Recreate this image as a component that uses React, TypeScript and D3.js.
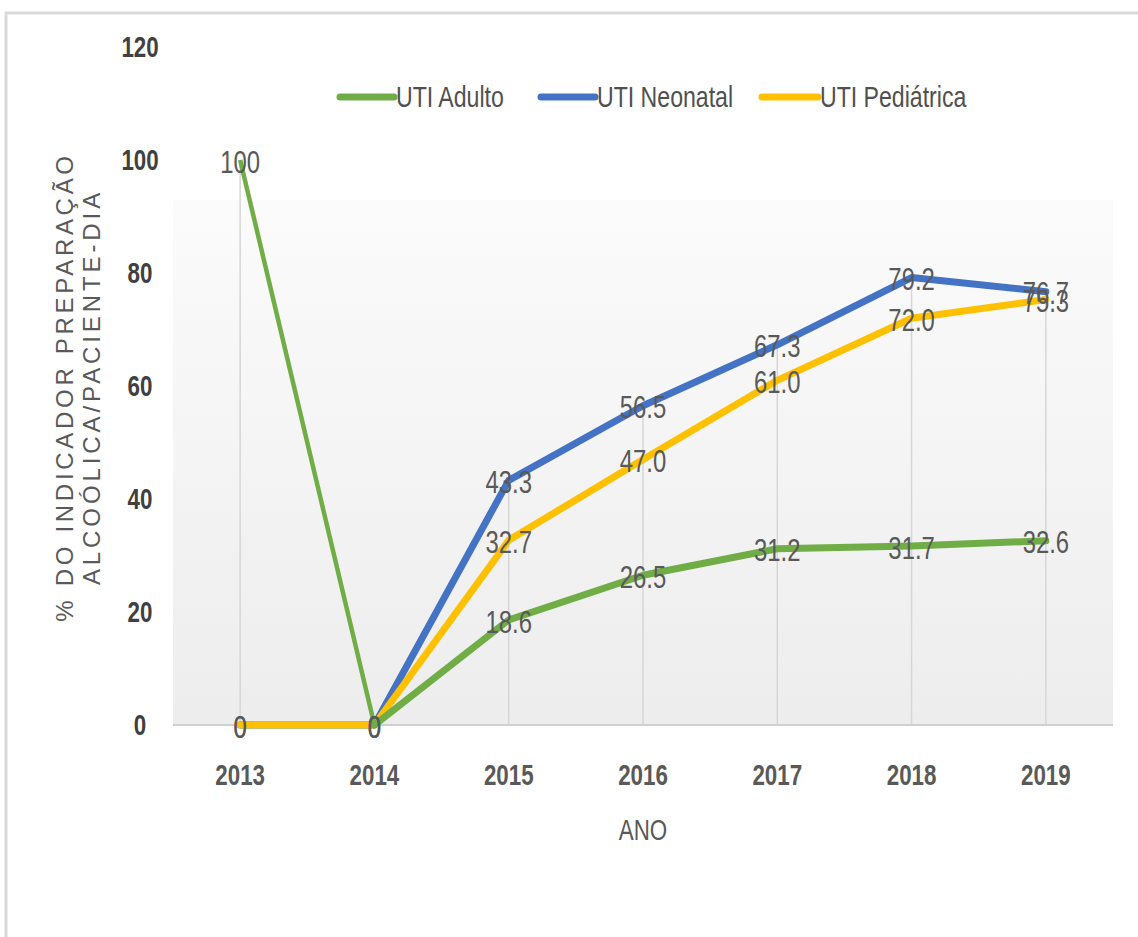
import React from "react";
import * as d3 from "d3";

const years = ["2013", "2014", "2015", "2016", "2017", "2018", "2019"];
const adulto = [100, 0, 18.6, 26.5, 31.2, 31.7, 32.6];
const neonatal = [0, 0, 43.3, 56.5, 67.3, 79.2, 76.7];
const pediatrica = [0, 0, 32.7, 47.0, 61.0, 72.0, 75.3];
const yTicks = [0, 20, 40, 60, 80, 100, 120];
const seriesNames = ["UTI Adulto", "UTI Neonatal", "UTI Pediátrica"];
const seriesColors = ["#70ad47", "#4472c4", "#ffc000"];

const W = 1138;
const H = 937;
const FONT = "'Liberation Sans', Arial, sans-serif";
const SX = 0.77;

function fmt(v: number) {
  return v === 0 || v === 100 ? String(v) : v.toFixed(1);
}

function SText(props: {
  x: number; y: number; text: string; size: number; weight?: string; fill?: string; anchor?: string;
}) {
  const { x, y, text, size, weight = "normal", fill = "#595959", anchor = "middle" } = props;
  return (
    <text
      transform={`translate(${x},${y}) scale(${SX},1)`}
      textAnchor={anchor as any}
      dominantBaseline="central"
      fontFamily={FONT}
      fontSize={size}
      fontWeight={weight}
      fill={fill}
    >
      {text}
    </text>
  );
}

export default function App() {
  const plotL = 173, plotR = 1113, plotT = 200, axisY = 725;
  const x = d3.scaleBand<string>().domain(years).range([plotL, plotR]);
  const xc = (yr: string) => (x(yr) as number) + x.bandwidth() / 2;
  const y = d3.scaleLinear().domain([0, 120]).range([axisY, 47]);

  const data = [adulto, neonatal, pediatrica];
  const line = d3
    .line<number>()
    .x((_, i) => xc(years[i]))
    .y((v) => y(v));
  const segLine = d3
    .line<[string, number]>()
    .x((d) => xc(d[0]))
    .y((d) => y(d[1]));

  const drawOrder = [1, 2, 0];
  const legendPos = [
    { x1: 340, x2: 394, tx: 396 },
    { x1: 541, x2: 595, tx: 597 },
    { x1: 762, x2: 818, tx: 820 },
  ];

  return (
    <svg
      width={W}
      height={H}
      style={{ position: "absolute", left: 0, top: 0, display: "block", background: "#fff" }}
    >
      <defs>
        <linearGradient id="plotBg" x1="0" y1="0" x2="0" y2="1">
          <stop offset="0" stopColor="#fbfbfb" />
          <stop offset="1" stopColor="#ededed" />
        </linearGradient>
      </defs>
      <rect x={6} y={13} width={1150} height={1000} fill="#fff" stroke="#d9d9d9" strokeWidth={3} />
      <rect x={plotL} y={plotT} width={plotR - plotL} height={axisY - plotT} fill="url(#plotBg)" />

      {/* drop lines */}
      {years.map((yr, i) => {
        const m = Math.max(adulto[i], neonatal[i], pediatrica[i]);
        return (
          <line key={"dl" + yr} x1={xc(yr)} x2={xc(yr)} y1={y(m)} y2={axisY} stroke="#d6d6d6" strokeWidth={1.5} />
        );
      })}
      <line x1={plotL} x2={plotR} y1={axisY} y2={axisY} stroke="#d0d0d0" strokeWidth={2} />

      {/* y tick labels */}
      {yTicks.map((t) => (
        <SText key={"yt" + t} x={140} y={y(t)} text={String(t)} size={29} weight="bold" fill="#404040" />
      ))}
      {/* x tick labels */}
      {years.map((yr) => (
        <SText key={"xt" + yr} x={xc(yr)} y={775} text={yr} size={29} weight="bold" fill="#595959" />
      ))}
      <SText x={643} y={830} text="ANO" size={29} fill="#595959" />

      {/* y title */}
      <g transform="translate(64,387) rotate(-90)">
        <text textAnchor="middle" dominantBaseline="central" fontFamily={FONT} fontSize={24} letterSpacing={3.7} fill="#595959">
          % DO INDICADOR PREPARAÇÃO
        </text>
      </g>
      <g transform="translate(91,387) rotate(-90)">
        <text textAnchor="middle" dominantBaseline="central" fontFamily={FONT} fontSize={24} letterSpacing={3.9} fill="#595959">
          ALCOÓLICA/PACIENTE-DIA
        </text>
      </g>

      {/* legend */}
      {seriesNames.map((n, i) => (
        <g key={"lg" + n}>
          <line x1={legendPos[i].x1} x2={legendPos[i].x2} y1={97} y2={97} stroke={seriesColors[i]} strokeWidth={7} strokeLinecap="round" />
          <SText x={legendPos[i].tx} y={97} text={n} size={30} anchor="start" fill="#505050" />
        </g>
      ))}

      {/* lines */}
      {drawOrder.map((si) => {
        if (si === 0) {
          const first: [string, number][] = [[years[0], adulto[0]], [years[1], adulto[1]]];
          const rest: [string, number][] = years.slice(1).map((yr, i) => [yr, adulto[i + 1]]);
          return (
            <g key="s0">
              <path d={segLine(first) || ""} fill="none" stroke={seriesColors[0]} strokeWidth={4.5} strokeLinejoin="round" />
              <path d={segLine(rest) || ""} fill="none" stroke={seriesColors[0]} strokeWidth={7} strokeLinejoin="round" strokeLinecap="round" />
            </g>
          );
        }
        return (
          <path
            key={"s" + si}
            d={line(data[si]) || ""}
            fill="none"
            stroke={seriesColors[si]}
            strokeWidth={7}
            strokeLinejoin="round"
            strokeLinecap="round"
          />
        );
      })}

      {/* data labels */}
      {drawOrder.map((si) =>
        data[si].map((v, i) => (
          <SText key={`lb${si}-${i}`} x={xc(years[i])} y={y(v) + 2} text={fmt(v)} size={31} fill="#595959" />
        ))
      )}
    </svg>
  );
}
